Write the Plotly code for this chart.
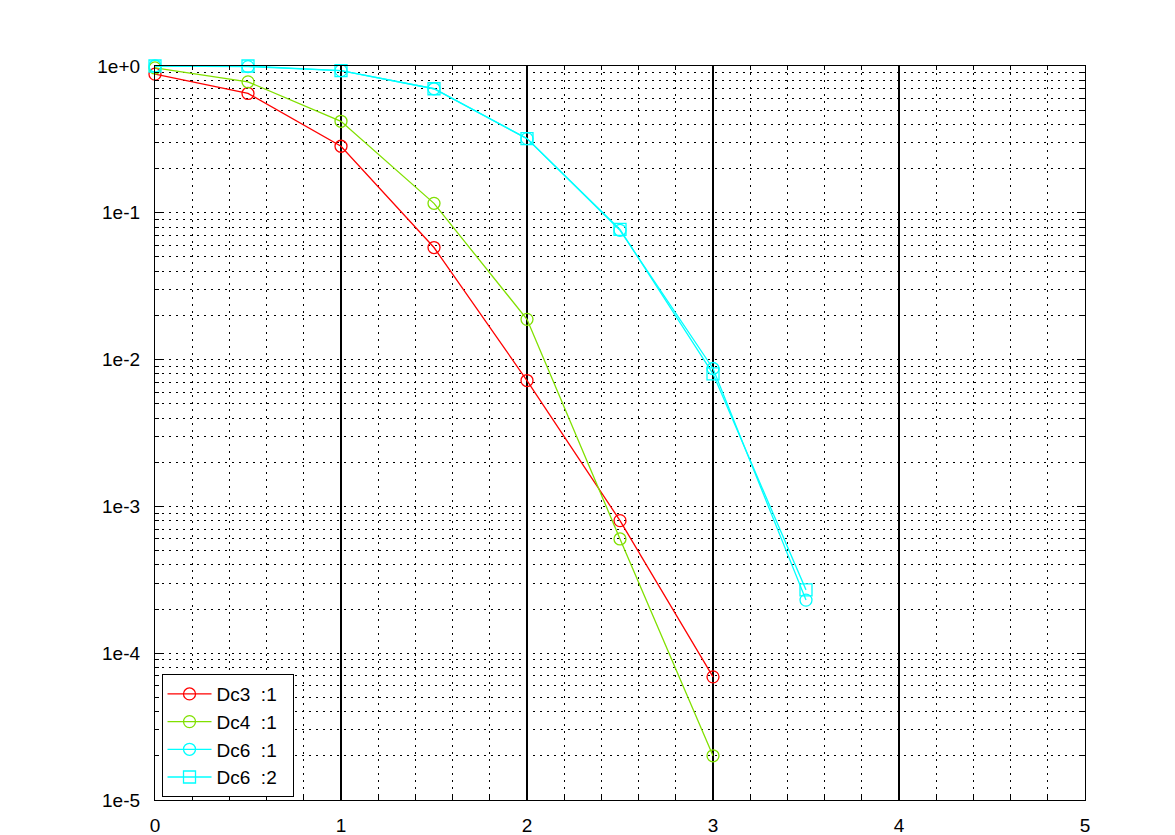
import plotly.graph_objects as go

x_vals = [0, 0.5, 1, 1.5, 2, 2.5, 3, 3.5]
dc3_1 = [0.88, 0.65, 0.284, 0.058, 0.0072, 8.0e-4, 6.9e-5]
dc4_1 = [0.97, 0.78, 0.42, 0.116, 0.0188, 6.0e-4, 2.0e-5]
dc6_1 = [1.0, 0.99, 0.93, 0.70, 0.32, 0.076, 0.0087, 2.3e-4]
dc6_2 = [1.0, 1.0, 0.93, 0.70, 0.32, 0.077, 0.0080, 2.7e-4]
series_names = ["Dc3\u00a0\u00a0:1", "Dc4\u00a0\u00a0:1", "Dc6\u00a0\u00a0:1", "Dc6\u00a0\u00a0:2"]
y_tickvals = [1e-5, 1e-4, 1e-3, 1e-2, 1e-1, 1]
y_ticktext = ["1e-5", "1e-4", "1e-3", "1e-2", "1e-1", "1e+0"]

FONT = "Liberation Sans, Arial, Helvetica, sans-serif"

fig = go.Figure()
specs = [
    (dc3_1, "#ff0000", "circle-open"),
    (dc4_1, "#80e000", "circle-open"),
    (dc6_1, "#00ffff", "circle-open"),
    (dc6_2, "#00ffff", "square-open"),
]
for (ys, col, sym), name in zip(specs, series_names):
    fig.add_trace(go.Scatter(
        x=x_vals[:len(ys)], y=ys, name=name + "\u00a0\u00a0", mode="lines+markers",
        line=dict(color=col, width=1.3),
        marker=dict(symbol=sym, size=12, color=col, line=dict(color=col, width=1.3)),
        cliponaxis=False,
    ))

dotdash = "2px,5px"
fig.update_xaxes(
    range=[0, 5], dtick=1, tick0=0, automargin=False,
    showgrid=True, gridcolor="black", gridwidth=1.5,
    showline=True, linecolor="black", linewidth=1.3, mirror="ticks",
    ticks="inside", ticklen=8, tickcolor="black",
    zeroline=False, ticklabelstandoff=8,
    tickfont=dict(family=FONT, size=19, color="black"),
    minor=dict(dtick=0.2, showgrid=True, gridcolor="black", griddash=dotdash, gridwidth=1,
               ticks="inside", ticklen=4, tickcolor="black"),
)
fig.update_yaxes(
    type="log", range=[-5, 0], automargin=False,
    tickvals=y_tickvals, ticktext=y_ticktext,
    showgrid=True, gridcolor="black", griddash=dotdash, gridwidth=1,
    showline=True, linecolor="black", linewidth=1.3, mirror="ticks",
    ticks="inside", ticklen=8, tickcolor="black",
    zeroline=False, ticklabelstandoff=10,
    tickfont=dict(family=FONT, size=19, color="black"),
    minor=dict(dtick="D1", showgrid=True, gridcolor="black", griddash=dotdash, gridwidth=1,
               ticks="inside", ticklen=4, tickcolor="black"),
)
fig.update_layout(
    width=1175, height=835,
    margin=dict(l=147, r=98, t=58, b=43),
    paper_bgcolor="white", plot_bgcolor="white",
    font=dict(family=FONT, size=19, color="black"),
    legend=dict(
        x=0.007, y=0.004, xanchor="left", yanchor="bottom",
        bgcolor="white", bordercolor="black", borderwidth=1,
        font=dict(family=FONT, size=19), itemwidth=44, tracegroupgap=0,
    ),
    showlegend=True,
)
fig.write_html("out.html")
